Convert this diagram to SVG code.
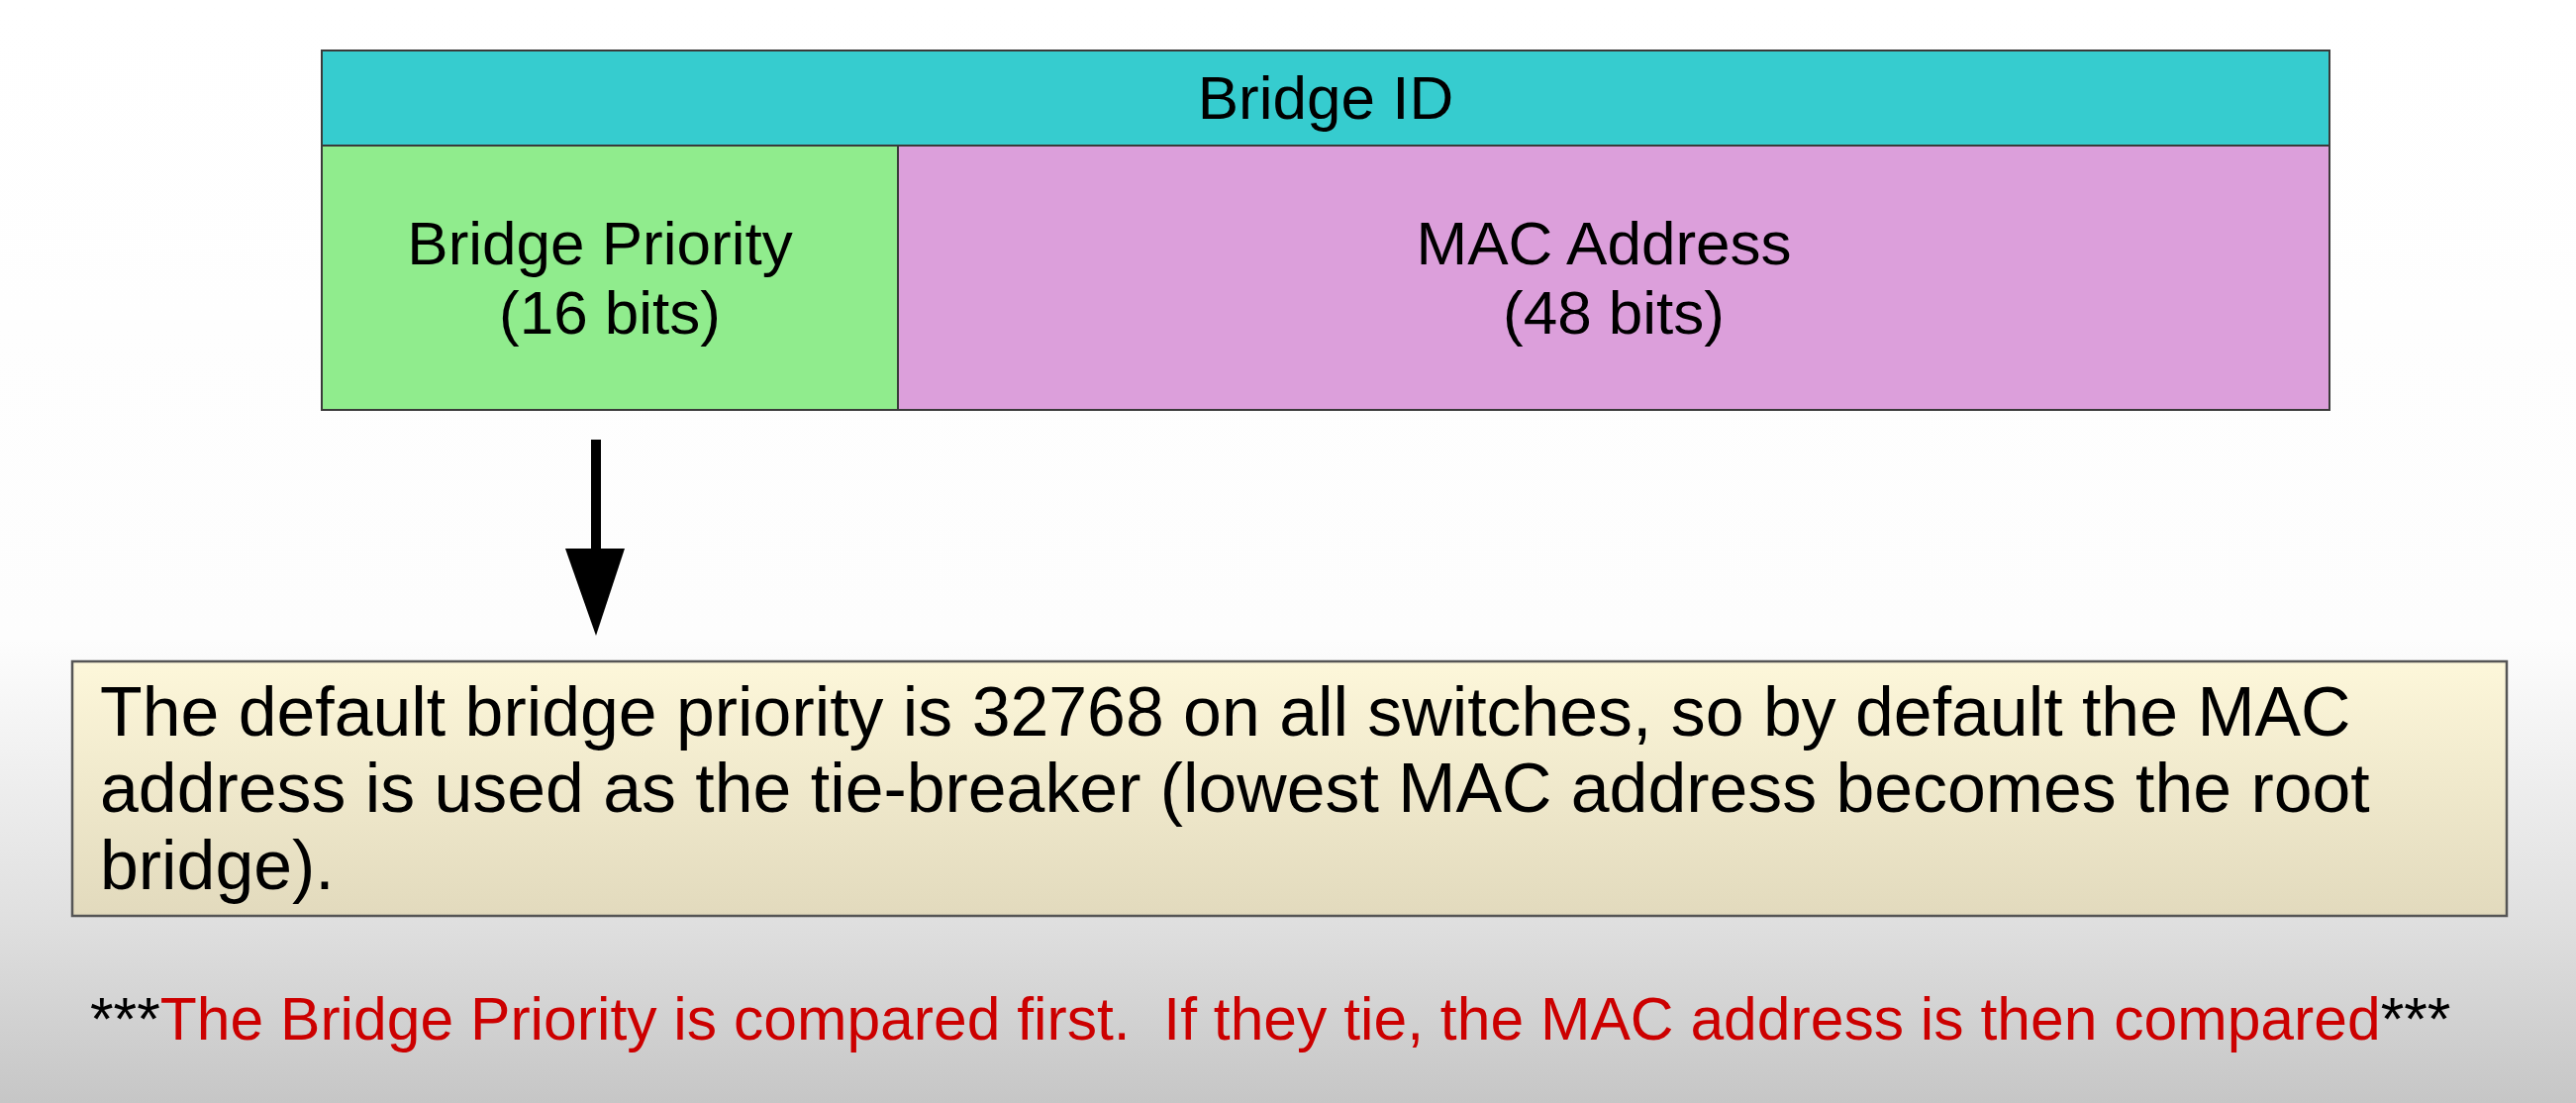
<svg xmlns="http://www.w3.org/2000/svg" width="2602" height="1114" viewBox="0 0 2602 1114">
  <defs>
    <linearGradient id="bg" x1="0" y1="0" x2="0" y2="1">
      <stop offset="0" stop-color="#ffffff"/>
      <stop offset="0.58" stop-color="#fdfdfd"/>
      <stop offset="0.83" stop-color="#e0e0e0"/>
      <stop offset="1" stop-color="#c6c6c6"/>
    </linearGradient>
    <linearGradient id="note" x1="0" y1="0" x2="0" y2="1">
      <stop offset="0" stop-color="#fdf7da"/>
      <stop offset="1" stop-color="#e2dabd"/>
    </linearGradient>
    <style>
      .lbl { font-family: "Liberation Sans", Arial, sans-serif; fill: #000; }
      .cell { stroke: #3a3a3a; stroke-width: 2; }
    </style>
  </defs>

  <rect x="0" y="0" width="2602" height="1114" fill="url(#bg)"/>

  <g id="bridge-id">
    <rect class="cell" x="325" y="51" width="2028" height="96" fill="#36cccf"/>
    <text class="lbl" x="1339" y="120" font-size="62" text-anchor="middle">Bridge ID</text>
  </g>

  <g id="bridge-priority">
    <rect class="cell" x="325" y="147" width="582" height="267" fill="#90ec8d"/>
    <text class="lbl" x="606" y="267" font-size="62" text-anchor="middle">Bridge Priority</text>
    <text class="lbl" x="616" y="337" font-size="62" text-anchor="middle">(16 bits)</text>
  </g>

  <g id="mac-address">
    <rect class="cell" x="907" y="147" width="1446" height="267" fill="#dc9fdb"/>
    <text class="lbl" x="1620" y="267" font-size="62" text-anchor="middle">MAC Address</text>
    <text class="lbl" x="1630" y="337" font-size="62" text-anchor="middle">(48 bits)</text>
  </g>

  <g id="connectors">
    <rect x="597" y="444" width="10" height="112" fill="#000"/>
    <polygon points="571,554 631,554 602,642" fill="#000"/>
  </g>

  <g id="note-box">
    <rect x="73" y="668" width="2459" height="257" fill="url(#note)" stroke="#555" stroke-width="2.5"/>
    <text class="lbl" font-size="69.8">
      <tspan x="101" y="743">The default bridge priority is 32768 on all switches, so by default the MAC</tspan>
      <tspan x="101" y="820">address is used as the tie-breaker (lowest MAC address becomes the root</tspan>
      <tspan x="101" y="898">bridge).</tspan>
    </text>
  </g>

  <g id="footnote">
    <text class="lbl" x="91" y="1050" font-size="60.6" xml:space="preserve" style="white-space:pre">***<tspan fill="#cc0000">The Bridge Priority is compared first.  If they tie, the MAC address is then compared</tspan>***</text>
  </g>
</svg>
